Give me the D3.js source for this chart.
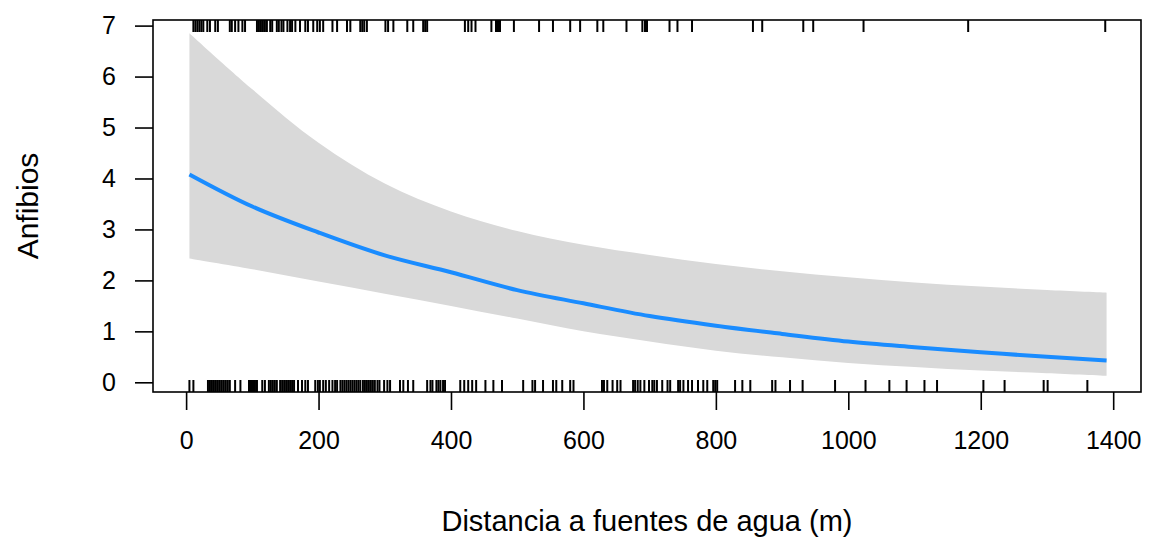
<!DOCTYPE html>
<html>
<head>
<meta charset="utf-8">
<script src="https://cdn.jsdelivr.net/npm/d3@7"></script>
<style>
  body { margin: 0; background: #fff; }
  svg text { font-family: Arial, "Liberation Sans", sans-serif; fill: #000; }
</style>
</head>
<body>
<svg id="chart_svg" width="1150" height="537"></svg>
<script>
// Fitted curve
var distancia = [5, 100, 200, 300, 400, 500, 600, 700, 800, 900, 1000, 1100, 1200, 1300, 1390];
var ajuste    = [4.08, 3.45, 2.94, 2.49, 2.16, 1.81, 1.55, 1.30, 1.11, 0.95, 0.80, 0.69, 0.59, 0.50, 0.43];
var inferior  = [2.43, 2.22, 1.98, 1.74, 1.50, 1.25, 1.00, 0.80, 0.62, 0.49, 0.38, 0.30, 0.23, 0.18, 0.13];
var superior  = [6.85, 5.75, 4.70, 3.90, 3.35, 2.97, 2.70, 2.50, 2.32, 2.18, 2.06, 1.96, 1.88, 1.81, 1.76];

// Rug marks: bottom and top
var rug_abajo = [5, 11, 33, 36, 39, 42, 45, 48, 51, 54, 57, 60, 63, 66, 74, 82, 95, 98, 101, 104, 107,
  115, 119, 125, 128, 131, 134, 137, 142, 145, 148, 151, 154, 157, 160, 163, 169, 175, 180, 184,
  195, 199, 202, 207, 211, 216, 221, 225, 228, 233, 236, 239, 242, 245, 248, 251, 254, 257, 260, 263,
  267, 270, 273, 276, 279, 282, 285, 289, 292, 299, 304, 308, 323, 328, 335, 343, 364, 369, 372, 378,
  381, 384, 388, 391, 414, 420, 426, 432, 438, 452, 464, 477, 509, 523, 527, 539, 554, 559, 568, 580,
  585, 628, 631, 636, 644, 651, 656, 675, 678, 682, 686, 692, 699, 704, 707, 711, 719, 727, 731, 743,
  746, 751, 758, 764, 773, 781, 787, 796, 799, 802, 829, 840, 852, 885, 890, 912, 931, 980, 1026, 1062,
  1088, 1115, 1134, 1204, 1236, 1295, 1301, 1361];
var rug_arriba = [11, 14, 17, 20, 23, 26, 32, 36, 44, 48, 66, 69, 74, 79, 85, 89, 107, 110, 113, 116,
  119, 122, 127, 130, 137, 140, 144, 147, 153, 157, 160, 165, 172, 180, 184, 192, 198, 202, 207, 221,
  228, 243, 248, 263, 266, 269, 273, 301, 305, 313, 334, 343, 358, 361, 364, 421, 426, 431, 437, 461,
  468, 471, 474, 495, 533, 554, 580, 595, 621, 630, 665, 689, 693, 696, 730, 742, 764, 856, 870, 932,
  947, 1023, 1181, 1388];

var x_ticks = [0, 200, 400, 600, 800, 1000, 1200, 1400];
var y_ticks = [0, 1, 2, 3, 4, 5, 6, 7];

var svg = d3.select("#chart_svg");
var plotLeft = 153, plotRight = 1141, plotTop = 20, plotBottom = 392;

var xScale = d3.scaleLinear().domain([-50, 1442]).range([plotLeft, plotRight]);
var yScale = d3.scaleLinear().domain([-0.19, 7.11]).range([plotBottom, plotTop]);

var puntos = distancia.map(function(d, i) {
    return { x: d, fit: ajuste[i], lo: inferior[i], hi: superior[i] };
});

// Confidence band
svg.append("path")
    .datum(puntos)
    .attr("fill", "#d9d9d9")
    .attr("stroke", "none")
    .attr("d", d3.area()
        .curve(d3.curveCatmullRom)
        .x(function(d) { return xScale(d.x); })
        .y0(function(d) { return yScale(d.lo); })
        .y1(function(d) { return yScale(d.hi); }));

// Fitted line
svg.append("path")
    .datum(puntos)
    .attr("fill", "none")
    .attr("stroke", "#1a8cff")
    .attr("stroke-width", 4)
    .attr("d", d3.line()
        .curve(d3.curveCatmullRom)
        .x(function(d) { return xScale(d.x); })
        .y(function(d) { return yScale(d.fit); }));

// Rugs
svg.append("g").selectAll("line")
    .data(rug_abajo)
    .enter().append("line")
    .attr("x1", function(d) { return xScale(d); })
    .attr("x2", function(d) { return xScale(d); })
    .attr("y1", plotBottom - 12)
    .attr("y2", plotBottom)
    .attr("stroke", "#000")
    .attr("stroke-width", 2);

svg.append("g").selectAll("line")
    .data(rug_arriba)
    .enter().append("line")
    .attr("x1", function(d) { return xScale(d); })
    .attr("x2", function(d) { return xScale(d); })
    .attr("y1", plotTop)
    .attr("y2", plotTop + 12)
    .attr("stroke", "#000")
    .attr("stroke-width", 2);

// Box
svg.append("rect")
    .attr("x", plotLeft)
    .attr("y", plotTop)
    .attr("width", plotRight - plotLeft)
    .attr("height", plotBottom - plotTop)
    .attr("fill", "none")
    .attr("stroke", "#000")
    .attr("stroke-width", 1.6);

// Axes
var xAxis = svg.append("g")
    .attr("transform", "translate(0," + plotBottom + ")")
    .call(d3.axisBottom(xScale).tickValues(x_ticks).tickSize(18).tickPadding(21).tickFormat(d3.format("d")));
var yAxis = svg.append("g")
    .attr("transform", "translate(" + plotLeft + ",0)")
    .call(d3.axisLeft(yScale).tickValues(y_ticks).tickSize(18).tickPadding(19).tickFormat(d3.format("d")));

[xAxis, yAxis].forEach(function(ax) {
    ax.select(".domain").remove();
    ax.selectAll(".tick line").attr("stroke", "#000").attr("stroke-width", 1.6);
    ax.selectAll(".tick text")
        .attr("fill", "#000")
        .style("font-size", "25px")
        .style("font-family", "Arial, 'Liberation Sans', sans-serif");
});

// Axis titles
svg.append("text")
    .attr("x", (plotLeft + plotRight) / 2)
    .attr("y", 531)
    .attr("text-anchor", "middle")
    .style("font-size", "29px")
    .text("Distancia a fuentes de agua (m)");

svg.append("text")
    .attr("transform", "translate(38," + ((plotTop + plotBottom) / 2) + ") rotate(-90)")
    .attr("text-anchor", "middle")
    .style("font-size", "30px")
    .text("Anfibios");
</script>
</body>
</html>
